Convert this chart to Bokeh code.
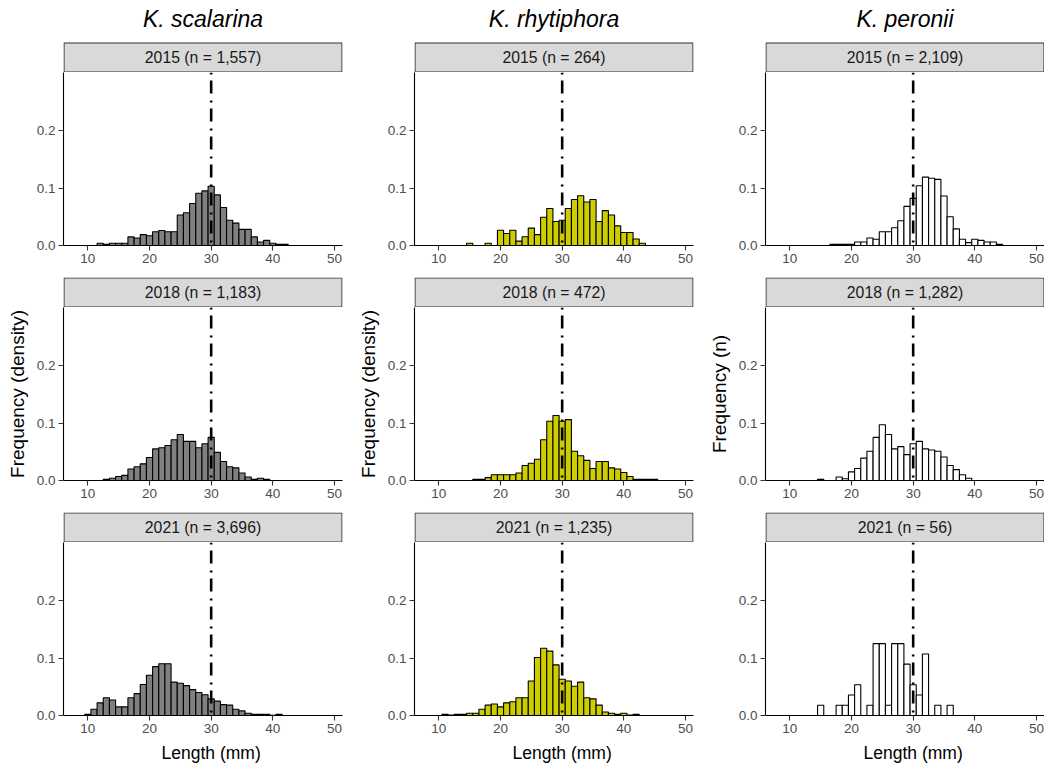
from bokeh.plotting import figure
from bokeh.layouts import row, column
from bokeh.models import FixedTicker, Range1d, NumeralTickFormatter
from bokeh.core.properties import value
from bokeh.embed import file_html
from bokeh.resources import INLINE

# ---------------- data ----------------
species = ["K. scalarina", "K. rhytiphora", "K. peronii"]
years = ["2015", "2018", "2021"]
n_labels = [["1,557", "1,183", "3,696"],
            ["264", "472", "1,235"],
            ["2,109", "1,282", "56"]]
y_titles = ["Frequency (density)", "Frequency (density)", "Frequency (n)"]
x_title = "Length (mm)"
bar_fills = ["#808080", "#CDCD00", "#FFFFFF"]
ref_length = 30
x_ticks = [10, 20, 30, 40, 50]
y_ticks = [0.0, 0.1, 0.2]

# K. scalarina
sca_2015_len = list(range(12, 43))
sca_2015_dens = [0.004, 0.002, 0.004, 0.004, 0.004, 0.015, 0.013, 0.019, 0.017, 0.024,
                 0.026, 0.024, 0.024, 0.053, 0.057, 0.073, 0.091, 0.095, 0.103, 0.088,
                 0.066, 0.044, 0.039, 0.028, 0.028, 0.015, 0.006, 0.009, 0.004, 0.002, 0.002]
sca_2018_len = list(range(13, 40))
sca_2018_dens = [0.002, 0.004, 0.007, 0.009, 0.020, 0.024, 0.029, 0.040, 0.055, 0.057,
                 0.061, 0.071, 0.080, 0.068, 0.068, 0.057, 0.064, 0.075, 0.049, 0.033,
                 0.024, 0.022, 0.013, 0.006, 0.002, 0.004, 0.002]
sca_2021_len = list(range(10, 42))
sca_2021_dens = [0.002, 0.011, 0.022, 0.031, 0.027, 0.015, 0.015, 0.031, 0.038, 0.054,
                 0.070, 0.085, 0.090, 0.090, 0.058, 0.056, 0.052, 0.045, 0.040, 0.036,
                 0.029, 0.025, 0.019, 0.018, 0.011, 0.008, 0.004, 0.002, 0.002, 0.002,
                 0.0005, 0.002]

# K. rhytiphora
rhy_2015_len = [15, 18] + list(range(20, 44))
rhy_2015_dens = [0.0038, 0.0038, 0.0265, 0.0210, 0.0265, 0.0076, 0.0152, 0.0303, 0.0189,
                 0.0492, 0.0644, 0.0417, 0.0440, 0.0644, 0.0800, 0.0865, 0.0758, 0.0800,
                 0.0417, 0.0606, 0.0530, 0.0341, 0.0227, 0.0227, 0.0114, 0.0038]
rhy_2018_len = list(range(16, 46))
rhy_2018_dens = [0.002, 0.002, 0.005, 0.010, 0.010, 0.010, 0.010, 0.013, 0.026, 0.030,
                 0.037, 0.071, 0.103, 0.113, 0.103, 0.106, 0.051, 0.043, 0.035, 0.021,
                 0.033, 0.033, 0.022, 0.020, 0.014, 0.007, 0.002, 0.002, 0.002, 0.002]
rhy_2021_len = list(range(11, 43))
rhy_2021_dens = [0.002, 0.001, 0.002, 0.002, 0.004, 0.004, 0.011, 0.018, 0.020, 0.015,
                 0.022, 0.024, 0.031, 0.031, 0.060, 0.101, 0.117, 0.112, 0.088, 0.063,
                 0.060, 0.051, 0.058, 0.031, 0.029, 0.018, 0.006, 0.004, 0.002, 0.004,
                 0.0008, 0.002]

# K. peronii
per_2015_len = list(range(17, 45))
per_2015_dens = [0.002, 0.002, 0.002, 0.002, 0.006, 0.006, 0.013, 0.011, 0.024, 0.024,
                 0.031, 0.043, 0.068, 0.082, 0.104, 0.119, 0.117, 0.115, 0.086, 0.050,
                 0.029, 0.011, 0.005, 0.011, 0.009, 0.006, 0.006, 0.002]
per_2018_len = [15] + list(range(18, 40))
per_2018_dens = [0.002, 0.006, 0.003, 0.015, 0.021, 0.039, 0.051, 0.075, 0.097, 0.080,
                 0.055, 0.059, 0.045, 0.064, 0.068, 0.055, 0.053, 0.051, 0.041, 0.026,
                 0.019, 0.010, 0.004]
per_2021_len = [15, 18, 19, 20, 21, 23, 24, 25, 26, 27, 28, 29, 30, 31, 32, 34, 36]
per_2021_dens = [0.0179, 0.0179, 0.0179, 0.0357, 0.0536, 0.0179, 0.125, 0.125, 0.0179,
                 0.125, 0.125, 0.0893, 0.0536, 0.0357, 0.1071, 0.0179, 0.0179]

panel_data = [
    [(sca_2015_len, sca_2015_dens), (sca_2018_len, sca_2018_dens), (sca_2021_len, sca_2021_dens)],
    [(rhy_2015_len, rhy_2015_dens), (rhy_2018_len, rhy_2018_dens), (rhy_2021_len, rhy_2021_dens)],
    [(per_2015_len, per_2015_dens), (per_2018_len, per_2018_dens), (per_2021_len, per_2021_dens)],
]

# ---------------- layout / style ----------------
FONT = "Liberation Sans"
X0, X1 = 6.05, 51.3
Y1 = 0.301
FW = 279
PANEL_H = 173
STRIP_H = 30
HEADER_H = 72
left_borders = [63, 63, 63]
right_borders = [9, 9, 0]
panel_bottom = [32, 32, 27]
XTITLE_H = 23
inset = 0.5 * (X1 - X0) / FW


def base(ci, fh, bottom, yr, axes=True):
    kw = dict(frame_width=FW, frame_height=fh,
              x_range=Range1d(X0, X1), y_range=yr,
              output_backend="svg", toolbar_location=None,
              min_border_left=left_borders[ci], min_border_right=right_borders[ci],
              min_border_top=0, min_border_bottom=bottom,
              background_fill_color="white", border_fill_color="white")
    if not axes:
        kw.update(x_axis_type=None, y_axis_type=None)
    p = figure(**kw)
    p.outline_line_color = None
    p.xgrid.visible = False
    p.ygrid.visible = False
    return p


def strip_fig(ci, ri):
    h = HEADER_H if ri == 0 else STRIP_H
    p = base(ci, h, 0, Range1d(0, h), axes=False)
    p.quad(left=[X0 + inset], right=[X1 - inset], bottom=[0.5], top=[STRIP_H - 0.5],
           fill_color="#D9D9D9", line_color="#333333", line_width=1.1)
    p.text(x=[(X0 + X1) / 2], y=[STRIP_H / 2],
           text=[f"{years[ri]} (n = {n_labels[ci][ri]})"],
           text_align="center", text_baseline="middle",
           text_font=value(FONT), text_font_size="15.8px", text_color="#1A1A1A")
    if ri == 0:
        p.text(x=[(X0 + X1) / 2], y=[HEADER_H - 18],
               text=[species[ci]], text_align="center", text_baseline="middle",
               text_font=value(FONT), text_font_size="23px", text_font_style="italic",
               text_color="black")
    return p


def panel_fig(ci, ri):
    p = base(ci, PANEL_H, panel_bottom[ri], Range1d(0, Y1))
    lens, dens = panel_data[ci][ri]
    p.vbar(x=lens, top=dens, bottom=0, width=1.0, fill_color=bar_fills[ci],
           line_color="black", line_width=1.1)
    p.segment(x0=[ref_length], y0=[Y1], x1=[ref_length], y1=[0],
              line_color="black", line_width=2.6, line_dash="2 6 13 7")
    for ax in (p.xaxis[0], p.yaxis[0]):
        ax.axis_line_color = "black"
        ax.axis_line_width = 1.1
        ax.major_tick_line_color = "#333333"
        ax.major_tick_line_width = 1.1
        ax.major_tick_out = 5
        ax.major_tick_in = 0
        ax.minor_tick_out = 0
        ax.minor_tick_in = 0
        ax.major_label_text_font = FONT
        ax.major_label_text_font_size = "13.5px"
        ax.major_label_text_color = "#4D4D4D"
        ax.major_label_standoff = 3
        ax.axis_label_text_font = FONT
        ax.axis_label_text_font_style = "normal"
        ax.axis_label_text_color = "black"
    p.xaxis.ticker = FixedTicker(ticks=x_ticks)
    p.yaxis.ticker = FixedTicker(ticks=y_ticks)
    p.yaxis.formatter = NumeralTickFormatter(format="0.0")
    if ri == 1:
        p.yaxis.axis_label = y_titles[ci]
        p.yaxis.axis_label_text_font_size = "19px"
        p.yaxis.axis_label_standoff = 6
    return p


def xtitle_fig(ci):
    p = base(ci, XTITLE_H, 0, Range1d(0, XTITLE_H), axes=False)
    p.text(x=[ref_length], y=[XTITLE_H - 10], text=[x_title],
           text_align="center", text_baseline="middle",
           text_font=value(FONT), text_font_size="17.5px", text_color="black")
    return p


cols = []
for ci in range(3):
    items = []
    for ri in range(3):
        items.append(strip_fig(ci, ri))
        items.append(panel_fig(ci, ri))
    items.append(xtitle_fig(ci))
    cols.append(column(*items, spacing=0))
layout = row(*cols, spacing=0)

open("out.html", "w").write(file_html(layout, INLINE))
